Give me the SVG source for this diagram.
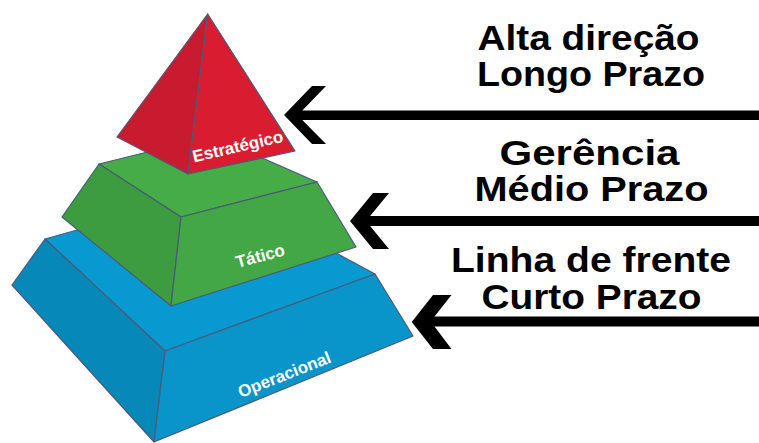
<svg xmlns="http://www.w3.org/2000/svg" width="759" height="443" viewBox="0 0 759 443">
<style>
.edge{stroke:#4a5b78;stroke-width:1.2;stroke-linejoin:round}
.lbl{font-family:"Liberation Sans",Arial,sans-serif;font-weight:bold;font-size:17px;fill:#fff;text-anchor:middle}
.cap{font-family:"Liberation Sans",Arial,sans-serif;font-weight:bold;font-size:35px;fill:#000}
.arrow{fill:#000}
</style>
<rect width="759" height="443" fill="#fff"/>
<g id="operacional">
<polygon class="edge" fill="#0899d0" points="45,239 219,190 375,274 165,351"/>
<polygon class="edge" fill="#0688b9" points="45,239 165,351 154,442 12,285"/>
<polygon class="edge" fill="#0994ca" points="165,351 375,274 413,336 154,442"/>
<text class="lbl" x="286.5" y="380" transform="rotate(-21.5 286.5 380)">Operacional</text>
</g>
<g id="tatico">
<polygon class="edge" fill="#46ac48" points="99,164 212,136 317,182 181,217"/>
<polygon class="edge" fill="#3d9b40" points="99,164 181,217 171,306 62,217"/>
<polygon class="edge" fill="#43a745" points="181,217 317,182 356,247 171,306"/>
<text class="lbl" x="261.7" y="261.5" transform="rotate(-15 261.7 261.5)">Tático</text>
</g>
<g id="estrategico">
<polygon class="edge" fill="#c91b2f" points="207.7,14 117,137 188,174"/>
<polygon class="edge" fill="#d91c2f" points="207.7,14 188,174 295,151"/>
<text class="lbl" x="239" y="152" transform="rotate(-13 239 152)">Estratégico</text>
</g>
<g id="connectors">
<polygon class="arrow" points="284,115 312,86 326,86 302.3,110.5 759,110.5 759,120 302.3,120 326,144 312,144"/>
<polygon class="arrow" points="350,221 373,193 389,193 370.1,216 759,216 759,226 370.1,226 389,249 373,249"/>
<polygon class="arrow" points="411.7,322 433,295 451.5,295 434.5,316.5 759,316.5 759,326.5 434.5,326.5 451.5,349 433,349"/>
</g>
<g id="label-alta">
<text class="cap" x="477.5" y="50" textLength="222" lengthAdjust="spacingAndGlyphs">Alta direção</text>
<text class="cap" x="477" y="86" textLength="228" lengthAdjust="spacingAndGlyphs">Longo Prazo</text>
</g>
<g id="label-gerencia">
<text class="cap" x="499.5" y="165" textLength="180" lengthAdjust="spacingAndGlyphs">Gerência</text>
<text class="cap" x="474.5" y="201" textLength="234" lengthAdjust="spacingAndGlyphs">Médio Prazo</text>
</g>
<g id="label-linha">
<text class="cap" x="451" y="272" textLength="280" lengthAdjust="spacingAndGlyphs">Linha de frente</text>
<text class="cap" x="481.5" y="308.5" textLength="220" lengthAdjust="spacingAndGlyphs">Curto Prazo</text>
</g>
</svg>
